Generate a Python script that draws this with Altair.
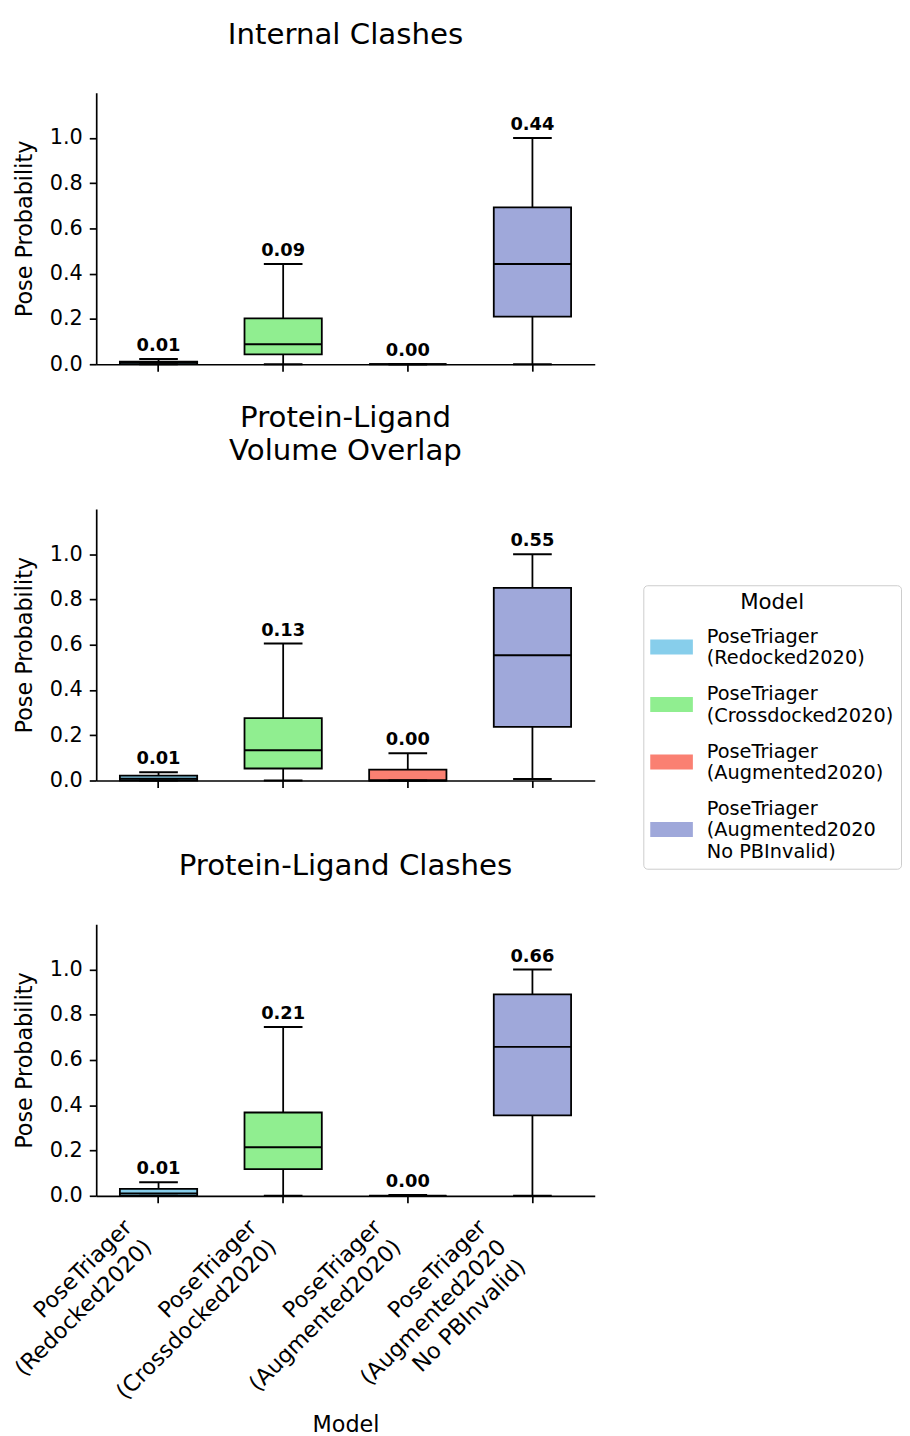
import json
import altair as alt
import pandas as pd

# ---------------- data ----------------
models = [
    "PoseTriager\n(Redocked2020)",
    "PoseTriager\n(Crossdocked2020)",
    "PoseTriager\n(Augmented2020)",
    "PoseTriager\n(Augmented2020\nNo PBInvalid)",
]
colors = ["#87CEEB", "#90EE90", "#FA8072", "#9FA8DA"]

panel_titles = [
    ["Internal Clashes"],
    ["Protein-Ligand", "Volume Overlap"],
    ["Protein-Ligand Clashes"],
]

ic_lower = [0.0, 0.0, 0.0, 0.0]
ic_q1 = [0.0, 0.044, 0.0, 0.21]
ic_median = [0.008, 0.088, 0.0, 0.443]
ic_q3 = [0.012, 0.203, 0.0, 0.693]
ic_upper = [0.023, 0.443, 0.0, 1.0]

vo_lower = [0.0, 0.0, 0.0, 0.007]
vo_q1 = [0.0, 0.053, 0.0, 0.237]
vo_median = [0.008, 0.134, 0.0, 0.553]
vo_q3 = [0.022, 0.276, 0.048, 0.851]
vo_upper = [0.036, 0.605, 0.12, 1.0]

pl_lower = [0.0, 0.0, 0.0, 0.0]
pl_q1 = [0.0, 0.118, 0.0, 0.355]
pl_median = [0.01, 0.214, 0.0, 0.658]
pl_q3 = [0.031, 0.368, 0.0, 0.89]
pl_upper = [0.06, 0.746, 0.003, 1.0]

y_ticks = [0.0, 0.2, 0.4, 0.6, 0.8, 1.0]

# ---------------- style ----------------
FONT = "DejaVu Sans"
FS = 21          # y tick labels
FS_T = 22.5      # axis titles
FS_X = 22.5      # rotated x tick labels
W, H = 503, 274
BOX_W, CAP_W = 78, 39
LW = 1.8
LEG_FS = 19.5
LEG_LINE = 20.5
SYM = 43  # legend patch width in px

# rotated multi-line tick labels, right-aligned lines; the rotated block's
# bounding box has its right edge at the tick (as matplotlib places them)
LINE = 28
LINE_H = 26


def label_shift(m):
    n = len(m.split("\n"))
    return -0.707 * ((n - 1) * LINE + LINE_H)


label_offset = {
    "condition": [{"test": f"datum.value === {json.dumps(m)}", "value": label_shift(m)}
                  for m in models[:-1]],
    "value": label_shift(models[-1]),
}


# legend patches: rectangles centred on the (multi-line) label block
def patch_path(m):
    n = len(m.split("\n"))
    dy = (n - 1) * LEG_LINE / 2 / (SYM / 2)
    h = 0.35
    return (f"M-1,{dy - h:.3f}L1,{dy - h:.3f}L1,{dy + h:.3f}L-1,{dy + h:.3f}Z")


patches = [patch_path(m) for m in models]


def panel(lower, q1, med, q3, upper, title, bottom):
    df = pd.DataFrame({"model": models, "lower": lower, "q1": q1,
                       "median": med, "q3": q3, "upper": upper})
    if bottom:
        xaxis = alt.Axis(labelAngle=315, labelAlign="right", labelBaseline="top",
                         labelExpr="split(datum.label, '\\n')", labelLineHeight=LINE,
                         labelFontSize=FS_X, labelOffset=label_offset, labelPadding=13,
                         title="Model", titlePadding=20, labelLimit=400)
        xtitle = "Model"
    else:
        xaxis = alt.Axis(labels=False)
        xtitle = None
    xs = alt.Scale(domain=models, paddingInner=0, paddingOuter=0)
    x = alt.X("model:N", sort=models, scale=xs, axis=xaxis, title=xtitle)
    ys = alt.Scale(domain=[0, 1.2], nice=False, zero=True)
    yax = alt.Axis(values=y_ticks, format=".1f", labelPadding=7, titlePadding=13)

    def yenc(f):
        return alt.Y(f"{f}:Q", scale=ys, axis=yax, title="Pose Probability")

    legend = alt.Legend(labelExpr="split(datum.label, '\\n')")
    color = alt.Color("model:N", scale=alt.Scale(domain=models, range=colors),
                      title="Model", legend=legend)
    shape = alt.Shape("model:N", scale=alt.Scale(domain=models, range=patches),
                      title="Model", legend=legend)

    base = alt.Chart(df)
    whisker = base.mark_rule(color="black", strokeWidth=LW).encode(
        x=x, y=yenc("lower"), y2="upper:Q")
    box = base.mark_bar(size=BOX_W, stroke="black", strokeWidth=LW, opacity=1).encode(
        x=x, y=yenc("q1"), y2="q3:Q", color=color)
    median = base.mark_tick(color="black", size=BOX_W, thickness=2, opacity=1).encode(
        x=x, y=yenc("median"))
    cap_lo = base.mark_tick(color="black", size=CAP_W, thickness=2, opacity=1).encode(
        x=x, y=yenc("lower"))
    cap_hi = base.mark_tick(color="black", size=CAP_W, thickness=2, opacity=1).encode(
        x=x, y=yenc("upper"))
    text = base.mark_text(font=FONT, fontWeight="bold", fontSize=18, dy=-8,
                          baseline="alphabetic", color="black").encode(
        x=x, y=yenc("upper"), text=alt.Text("median:Q", format=".2f"))
    # carries the legend patch shapes only (draws nothing)
    keys = base.mark_point(filled=True, opacity=1, size=SYM * SYM, strokeWidth=0).encode(
        x=x, y=yenc("lower"), color=color, shape=shape).transform_filter("false")
    return alt.layer(whisker, box, median, cap_lo, cap_hi, text, keys).properties(
        width=W, height=H, title=alt.TitleParams(text=title))


p1 = panel(ic_lower, ic_q1, ic_median, ic_q3, ic_upper, panel_titles[0], False)
p2 = panel(vo_lower, vo_q1, vo_median, vo_q3, vo_upper, panel_titles[1], False)
p3 = panel(pl_lower, pl_q1, pl_median, pl_q3, pl_upper, panel_titles[2], True)

chart = (
    alt.vconcat(alt.vconcat(p1, p2, spacing=29), p3, spacing=61)
    .resolve_scale(color="shared", shape="shared")
    .configure(font=FONT, padding={"left": -17, "top": 5, "right": 0, "bottom": 0})
    .configure_axis(labelFont=FONT, titleFont=FONT, labelFontSize=FS, titleFontSize=FS_T,
                    titleFontWeight="normal", labelColor="black", titleColor="black",
                    domainColor="black", tickColor="black", domainWidth=1.7,
                    tickWidth=1.7, tickSize=7, grid=False)
    .configure_view(strokeWidth=0)
    .configure_title(font=FONT, fontSize=29.5, fontWeight="normal", anchor="middle",
                     frame="group", color="black", offset=43, lineHeight=33)
    .configure_legend(orient="none", legendX=552, legendY=497,
                      strokeColor="#cccccc", fillColor="white", padding=7,
                      cornerRadius=4, titleFont=FONT, titleFontSize=21.5,
                      titleFontWeight="normal", titleColor="black",
                      titleAnchor="middle", titlePadding=2,
                      labelFont=FONT, labelFontSize=LEG_FS, labelColor="black",
                      labelLimit=400, labelOffset=14, rowPadding=5,
                      symbolSize=SYM * SYM, symbolStrokeWidth=0, symbolOpacity=1)
)

chart.save("out.html", embed_options={"renderer": "svg", "actions": False})
